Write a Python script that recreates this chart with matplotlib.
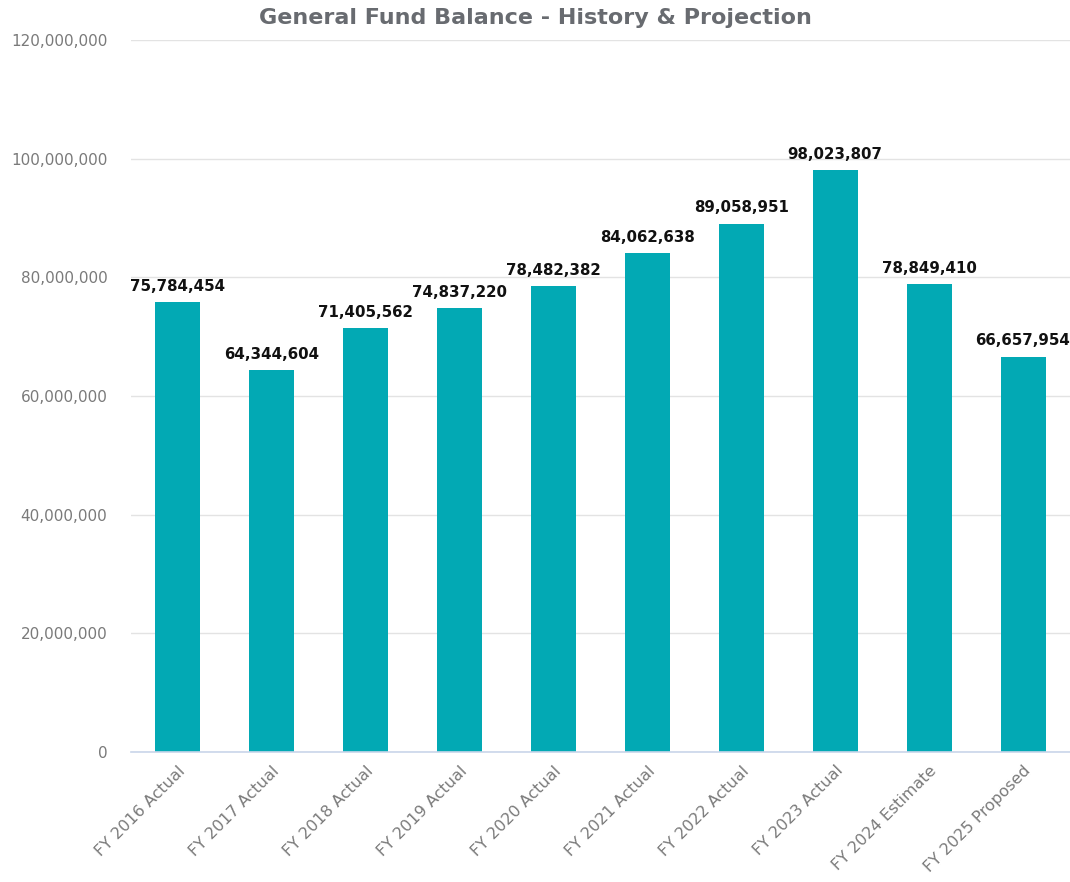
import matplotlib
matplotlib.use("Agg")
import matplotlib.pyplot as plt
from matplotlib.ticker import FuncFormatter

#Data
categories = ["FY 2016 Actual", "FY 2017 Actual", "FY 2018 Actual", "FY 2019 Actual",
              "FY 2020 Actual", "FY 2021 Actual", "FY 2022 Actual", "FY 2023 Actual",
              "FY 2024 Estimate", "FY 2025 Proposed"]
balances = [75784454, 64344604, 71405562, 74837220, 78482382,
            84062638, 89058951, 98023807, 78849410, 66657954]
y_ticks = [0, 20000000, 40000000, 60000000, 80000000, 100000000, 120000000]

plt.rcParams['font.family'] = ['DejaVu Sans']

fig = plt.figure(figsize=(10.7, 8.82), dpi=100)
ax = fig.add_axes([0.1224, 0.1474, 0.8776, 0.8072])

x = list(range(len(categories)))
ax.bar(x, balances, width=0.48, color="#02A9B4", zorder=3)

for xi, v in zip(x, balances):
    ax.annotate(f"{v:,}", (xi, v), xytext=(0, 6), textcoords="offset points",
                ha="center", va="bottom", fontsize=10.8, fontweight="bold", color="#111111")

ax.set_xlim(-0.5, len(categories) - 0.5)
ax.set_ylim(0, 120000000)
ax.set_yticks(y_ticks)
ax.yaxis.set_major_formatter(FuncFormatter(lambda v, p: f"{int(v):,}"))
ax.set_xticks(x)
ax.set_xticklabels(categories, rotation=45, ha="right", rotation_mode="anchor")

ax.grid(axis="y", color="#E3E3E3", linewidth=1, zorder=0)
for s in ["top", "right", "left"]:
    ax.spines[s].set_visible(False)
ax.spines["bottom"].set_color("#C9D6EA")
ax.spines["bottom"].set_linewidth(1.2)
ax.spines["bottom"].set_zorder(4)
ax.tick_params(axis="both", length=0, colors="#7A7A7A")
ax.tick_params(axis="y", pad=17, labelsize=11)
ax.tick_params(axis="x", pad=8, labelsize=11.5)

fig.text(0.5, 1 - 18 / 882, "General Fund Balance - History & Projection", fontsize=16,
         fontweight="bold", color="#686B70", ha="center", va="center")

fig.savefig("out.png", dpi=100)
plt.close()
